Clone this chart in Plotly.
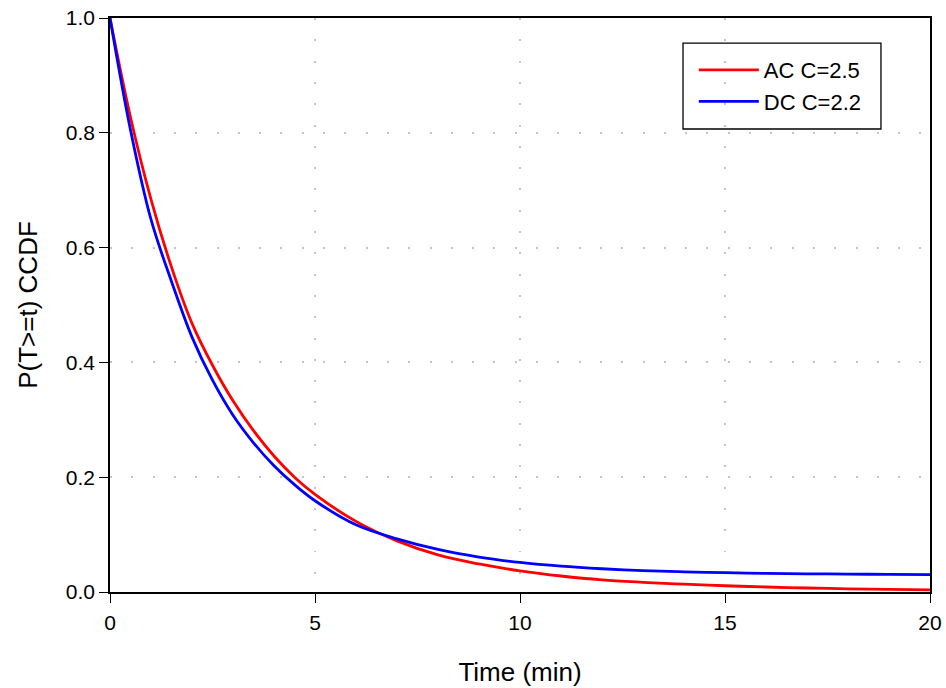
import plotly.graph_objects as go

# Time (min)
t_ac = [0, 0.5, 1, 1.5, 2, 2.5, 3, 3.5, 4, 4.5, 5, 6, 7, 8, 9, 10,
        11, 12, 13, 14, 15, 16, 17, 18, 19, 20]
ccdf_ac = [1.0, 0.827, 0.684, 0.566, 0.468, 0.395, 0.333, 0.281, 0.237, 0.200,
           0.170, 0.123, 0.089, 0.0646, 0.0488, 0.0369, 0.0279, 0.0211,
           0.0169, 0.0136, 0.0109, 0.0087, 0.0070, 0.0056, 0.0045, 0.0038]

t_dc = [0, 0.5, 1, 1.5, 2, 2.5, 3, 3.5, 4, 4.5, 5, 6, 7, 8, 9, 10,
        11, 12, 13, 14, 15, 16, 17, 18, 19, 20]
ccdf_dc = [1.0, 0.805, 0.649, 0.541, 0.444, 0.369, 0.308, 0.260, 0.220,
           0.187, 0.159, 0.117, 0.0925, 0.0741, 0.0608, 0.0515, 0.045,
           0.0405, 0.0373, 0.0351, 0.0336, 0.0325, 0.0317, 0.0312, 0.0307,
           0.0303]

x_ticks = [0, 5, 10, 15, 20]
y_ticks = [0.0, 0.2, 0.4, 0.6, 0.8, 1.0]
y_tick_labels = ["0.0", "0.2", "0.4", "0.6", "0.8", "1.0"]

FONT = "Liberation Sans, Arial, sans-serif"

fig = go.Figure()
fig.add_trace(go.Scatter(x=t_ac, y=ccdf_ac, mode="lines", name="AC C=2.5",
                         line=dict(color="#ff0000", width=2.8, shape="spline")))
fig.add_trace(go.Scatter(x=t_dc, y=ccdf_dc, mode="lines", name="DC C=2.2",
                         line=dict(color="#0000ff", width=2.8, shape="spline")))

axis_common = dict(
    showline=True, linecolor="black", linewidth=1.5, mirror=True,
    ticks="outside", ticklen=9, tickwidth=1.2, tickcolor="black",
    showgrid=True, gridcolor="#c4c4c4", gridwidth=1.6,
    griddash="2px,19.3px", zeroline=False, automargin=False,
    tickfont=dict(family=FONT, size=21, color="black"),
)

fig.update_xaxes(range=[0, 20], tickvals=x_ticks, ticklabelstandoff=2,
                 title=dict(text="Time (min)", font=dict(family=FONT, size=26, color="black"),
                            standoff=30),
                 **axis_common)
fig.update_yaxes(range=[0, 1], tickvals=y_ticks, ticktext=y_tick_labels,
                 ticklabelstandoff=0,
                 title=dict(text="P(T>=t) CCDF", font=dict(family=FONT, size=26, color="black"),
                            standoff=21),
                 **axis_common)

# legend frame
fig.add_shape(type="rect", xref="paper", yref="paper",
              x0=0.6988, x1=0.9402, y0=0.8066, y1=0.9564,
              line=dict(color="black", width=1.3), fillcolor="white", layer="below")

fig.update_layout(
    width=946, height=688,
    margin=dict(l=110, r=16, t=18, b=96),
    paper_bgcolor="white", plot_bgcolor="rgba(0,0,0,0)",
    font=dict(family=FONT, color="black"),
    showlegend=True,
    legend=dict(x=0.712, y=0.946, xanchor="left", yanchor="top",
                bgcolor="rgba(0,0,0,0)", borderwidth=0,
                font=dict(family=FONT, size=22, color="black"),
                tracegroupgap=0, itemwidth=60),
)

fig.write_html("out.html")
